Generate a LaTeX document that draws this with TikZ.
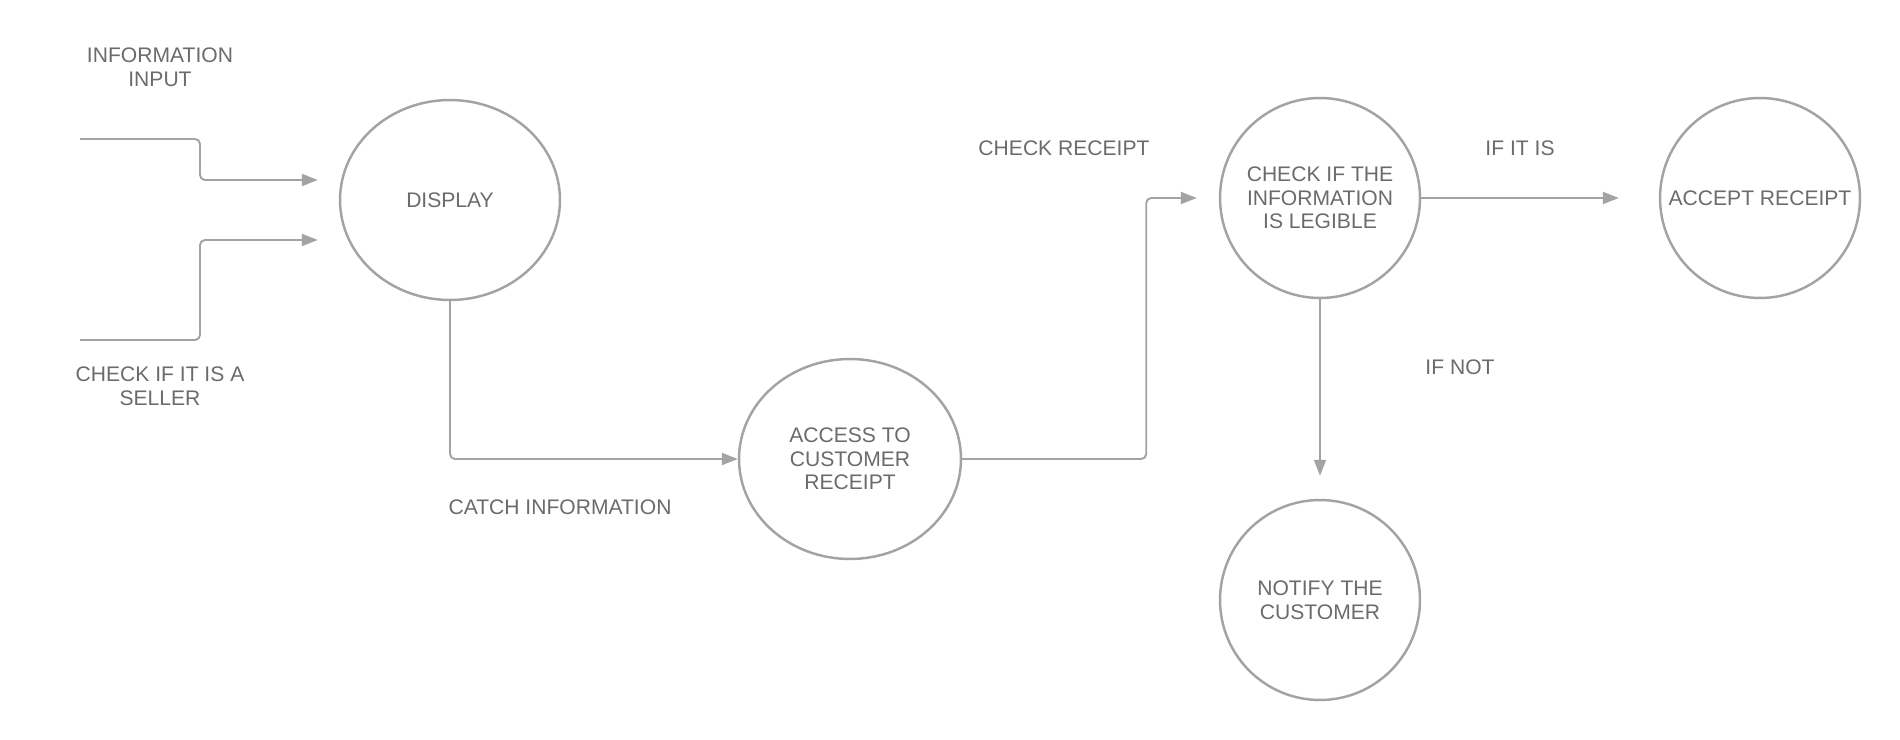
\documentclass[tikz,border=0pt]{standalone}
\usepackage{fontspec}
\setmainfont{Liberation Sans}
\usetikzlibrary{arrows.meta, positioning, shapes.geometric, calc}
\definecolor{lineGray}{HTML}{A3A3A3}
\definecolor{textGray}{HTML}{6B6B6B}
\tikzset{
  process/.style = {
    draw=lineGray,
    line width=1.4pt,
    ellipse,
    align=center,
    inner sep=0pt,
    minimum width=4cm,
    minimum height=4cm,
    text=textGray,
    font=\fontsize{12pt}{13.5pt}\selectfont,
  },
  note/.style = {
    align=center,
    text=textGray,
    font=\fontsize{12pt}{13.5pt}\selectfont,
  },
  flow/.style = {
    draw=lineGray,
    line width=1.1pt,
    rounded corners=0.1cm,
    -{Triangle[length=0.32cm, width=0.24cm]},
  },
}

\begin{document}
\begin{tikzpicture}[
  x=0.02cm,
  y=-0.02cm,
]
\useasboundingbox (0,0) rectangle (1900,740);

\node(Display)[process, minimum width=4.4cm] at (450,200) {DISPLAY};
\node(Access)[process, minimum width=4.44cm, inner xsep=-0.2cm] at (850,459) {ACCESS TO\\CUSTOMER\\RECEIPT};
\node(Check)[process, inner xsep=-0.3cm] at (1320,198) {CHECK IF THE\\INFORMATION\\IS LEGIBLE};
\node(Accept)[process, inner xsep=-0.5cm] at (1760,198) {ACCEPT RECEIPT};
\node(Notify)[process] at (1320,600) {NOTIFY THE\\CUSTOMER};

\node(InfoInput)[note] at (160,67) {INFORMATION\\INPUT};
\node(SellerCheck)[note] at (160,386) {CHECK IF IT IS A\\SELLER};
\node(CatchInfo)[note] at (560,507) {CATCH INFORMATION};
\node(CheckReceipt)[note] at (1064,148) {CHECK RECEIPT};
\node(IfIs)[note] at (1520,148) {IF IT IS};
\node(IfNot)[note] at (1460,367) {IF NOT};

\coordinate(InA) at (80,139);
\coordinate(InB) at (80,340);

\draw[flow, shorten >=0.42cm] (InA) -- ++(120,0) |- ([yshift=0.4cm]Display.west);
\draw[flow, shorten >=0.42cm] (InB) -- ++(120,0) |- ([yshift=-0.8cm]Display.west);
\draw[flow] (Display) |- (Access);
\draw[flow, shorten >=0.44cm] (Access.east) -- ++(184,0) |- (Check);
\draw[flow, shorten >=0.8cm] (Check) -- (Accept);
\draw[flow, shorten >=0.46cm] (Check) -- (Notify);

\end{tikzpicture}
\end{document}
